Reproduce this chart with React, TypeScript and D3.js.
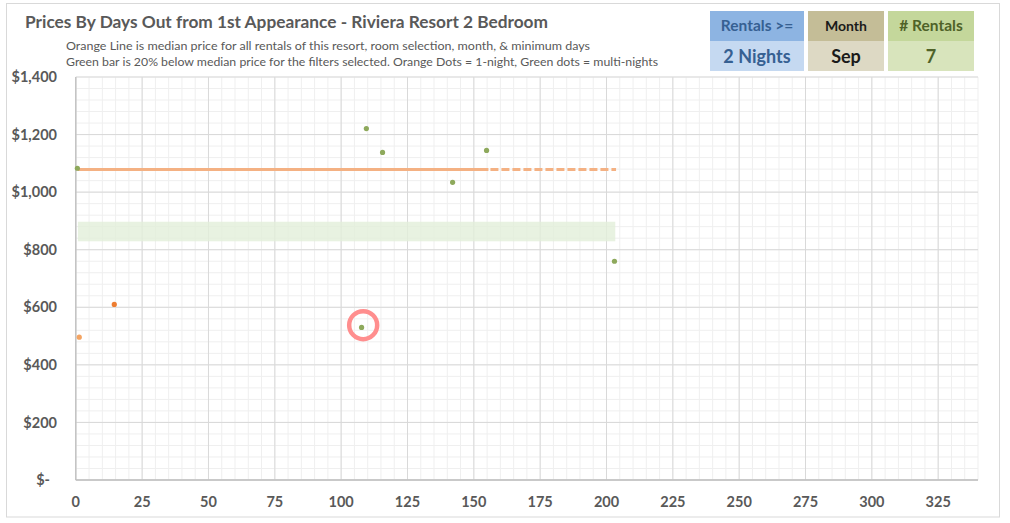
import React from "react";
import * as d3 from "d3";

const title = "Prices By Days Out from 1st Appearance - Riviera Resort 2 Bedroom";
const subtitle1 = "Orange Line is median price for all rentals of this resort, room selection, month, & minimum days";
const subtitle2 = "Green bar is 20% below median price for the filters selected. Orange Dots = 1-night, Green dots = multi-nights";

const xTicks = [0, 25, 50, 75, 100, 125, 150, 175, 200, 225, 250, 275, 300, 325];
const yTicks = [0, 200, 400, 600, 800, 1000, 1200, 1400];
const yTickLabels = ["$-", "$200", "$400", "$600", "$800", "$1,000", "$1,200", "$1,400"];

const greenDays = [0.6, 107.7, 109.5, 115.6, 142, 154.8, 203];
const greenPrices = [1083, 530, 1221, 1138, 1034, 1145, 760];
const orangeDays = [1.3, 14.5];
const orangePrices = [496, 610];
const orangeColors = ["#F4A462", "#ED7D31"];

const medianPrice = 1079;
const medianStart = 0.6;
const medianSolidEnd = 155.5;
const medianEnd = 203.6;
const bandPrice = medianPrice * 0.8;
const bandStart = 0.8;
const bandEnd = 203.3;
const bandHalf = 34;

const highlightDay = 108.3;
const highlightPrice = 538;

const legendHeads = ["Rentals >=", "Month", "# Rentals"];
const legendValues = ["2 Nights", "Sep", "7"];

const FONT = "Lato, 'Open Sans', sans-serif";

export default function App() {
  const x = d3.scaleLinear().domain([0, 340]).range([75.8, 978]);
  const y = d3.scaleLinear().domain([0, 1400]).range([480, 77]);
  const minorX = d3.range(0, 341, 5);
  const minorY = d3.range(0, 1401, 40);

  const boxes = [
    { x0: 710, x1: 804, top: "#8DB4E2", bot: "#C5D9F1", tc: "#366092", hs: 15.5 },
    { x0: 808, x1: 884, top: "#C4BD97", bot: "#DDD9C4", tc: "#1A1A1A", hs: 14 },
    { x0: 888, x1: 974, top: "#C4D79B", bot: "#D8E4BC", tc: "#4F6228", hs: 15.5 },
  ];

  return (
    <svg
      width={1010}
      height={523}
      style={{ position: "absolute", left: 0, top: 0, background: "#fff" }}
      fontFamily={FONT}
    >
      <rect x={6.5} y={3.5} width={993} height={513.5} fill="#fff" stroke="#D9D9D9" strokeWidth={1} />

      {/* minor grid */}
      {minorX.map((d) => (
        <line key={"mx" + d} x1={x(d)} x2={x(d)} y1={y(1400)} y2={y(0)} stroke="#EFEFEF" strokeWidth={1} />
      ))}
      {minorY.map((d) => (
        <line key={"my" + d} x1={x(0)} x2={x(340)} y1={y(d)} y2={y(d)} stroke="#EFEFEF" strokeWidth={1} />
      ))}
      {/* major grid */}
      {xTicks.map((d) => (
        <line key={"Mx" + d} x1={x(d)} x2={x(d)} y1={y(1400)} y2={y(0)} stroke="#D9D9D9" strokeWidth={1} />
      ))}
      {yTicks.map((d) => (
        <line key={"My" + d} x1={x(0)} x2={x(340)} y1={y(d)} y2={y(d)} stroke="#D9D9D9" strokeWidth={1} />
      ))}
      {/* axes */}
      <line x1={x(0)} x2={x(0)} y1={y(1400)} y2={y(0)} stroke="#BFBFBF" strokeWidth={1.3} />
      <line x1={x(0)} x2={x(340)} y1={y(0)} y2={y(0)} stroke="#BFBFBF" strokeWidth={1.3} />

      {/* green band */}
      <rect
        x={x(bandStart)}
        width={x(bandEnd) - x(bandStart)}
        y={y(bandPrice + bandHalf)}
        height={y(bandPrice - bandHalf) - y(bandPrice + bandHalf)}
        fill="#E2EFDA"
        opacity={0.8}
      />

      {/* median line */}
      <line x1={x(medianStart)} x2={x(medianSolidEnd)} y1={y(medianPrice)} y2={y(medianPrice)} stroke="#F4B183" strokeWidth={3} />
      <line
        x1={x(medianSolidEnd)}
        x2={x(medianEnd)}
        y1={y(medianPrice)}
        y2={y(medianPrice)}
        stroke="#F4B183"
        strokeWidth={3}
        strokeDasharray="8,3"
        strokeDashoffset={-2}
      />

      {/* points */}
      {greenDays.map((d, i) => (
        <circle key={"g" + i} cx={x(d)} cy={y(greenPrices[i])} r={2.6} fill="#8EA95C" />
      ))}
      {orangeDays.map((d, i) => (
        <circle key={"o" + i} cx={x(d)} cy={y(orangePrices[i])} r={2.6} fill={orangeColors[i]} />
      ))}

      {/* highlight */}
      <circle cx={x(highlightDay)} cy={y(highlightPrice)} r={14} fill="none" stroke="#FF8E8E" strokeWidth={4.5} />

      {/* y labels */}
      {yTicks.map((d, i) => (
        <text
          key={"yl" + d}
          x={d === 0 ? 50 : 57}
          y={y(d)}
          dy="0.35em"
          textAnchor="end"
          fontSize={14.5}
          fontWeight={700}
          fill="#595959"
        >
          {yTickLabels[i]}
        </text>
      ))}
      {/* x labels */}
      {xTicks.map((d) => (
        <text key={"xl" + d} x={x(d)} y={502} dy="0.35em" textAnchor="middle" fontSize={14.5} fontWeight={700} fill="#595959">
          {d}
        </text>
      ))}

      {/* titles */}
      <text x={25} y={28} fontSize={17.5} fontWeight={700} fill="#595959" textLength={523} lengthAdjust="spacingAndGlyphs">
        {title}
      </text>
      <text x={66} y={50} fontSize={12} fill="#595959" textLength={524} lengthAdjust="spacingAndGlyphs">
        {subtitle1}
      </text>
      <text x={66} y={66} fontSize={12} fill="#595959" textLength={592} lengthAdjust="spacingAndGlyphs">
        {subtitle2}
      </text>

      {/* legend boxes */}
      {boxes.map((b, i) => (
        <g key={"b" + i}>
          <rect x={b.x0} y={11} width={b.x1 - b.x0} height={30} fill={b.top} />
          <rect x={b.x0} y={41} width={b.x1 - b.x0} height={30} fill={b.bot} />
          <text x={(b.x0 + b.x1) / 2} y={26} dy="0.35em" textAnchor="middle" fontSize={b.hs} fontWeight={700} fill={b.tc}>
            {legendHeads[i]}
          </text>
          <text x={(b.x0 + b.x1) / 2} y={56.5} dy="0.35em" textAnchor="middle" fontSize={18} fontWeight={700} fill={b.tc}>
            {legendValues[i]}
          </text>
        </g>
      ))}
    </svg>
  );
}
